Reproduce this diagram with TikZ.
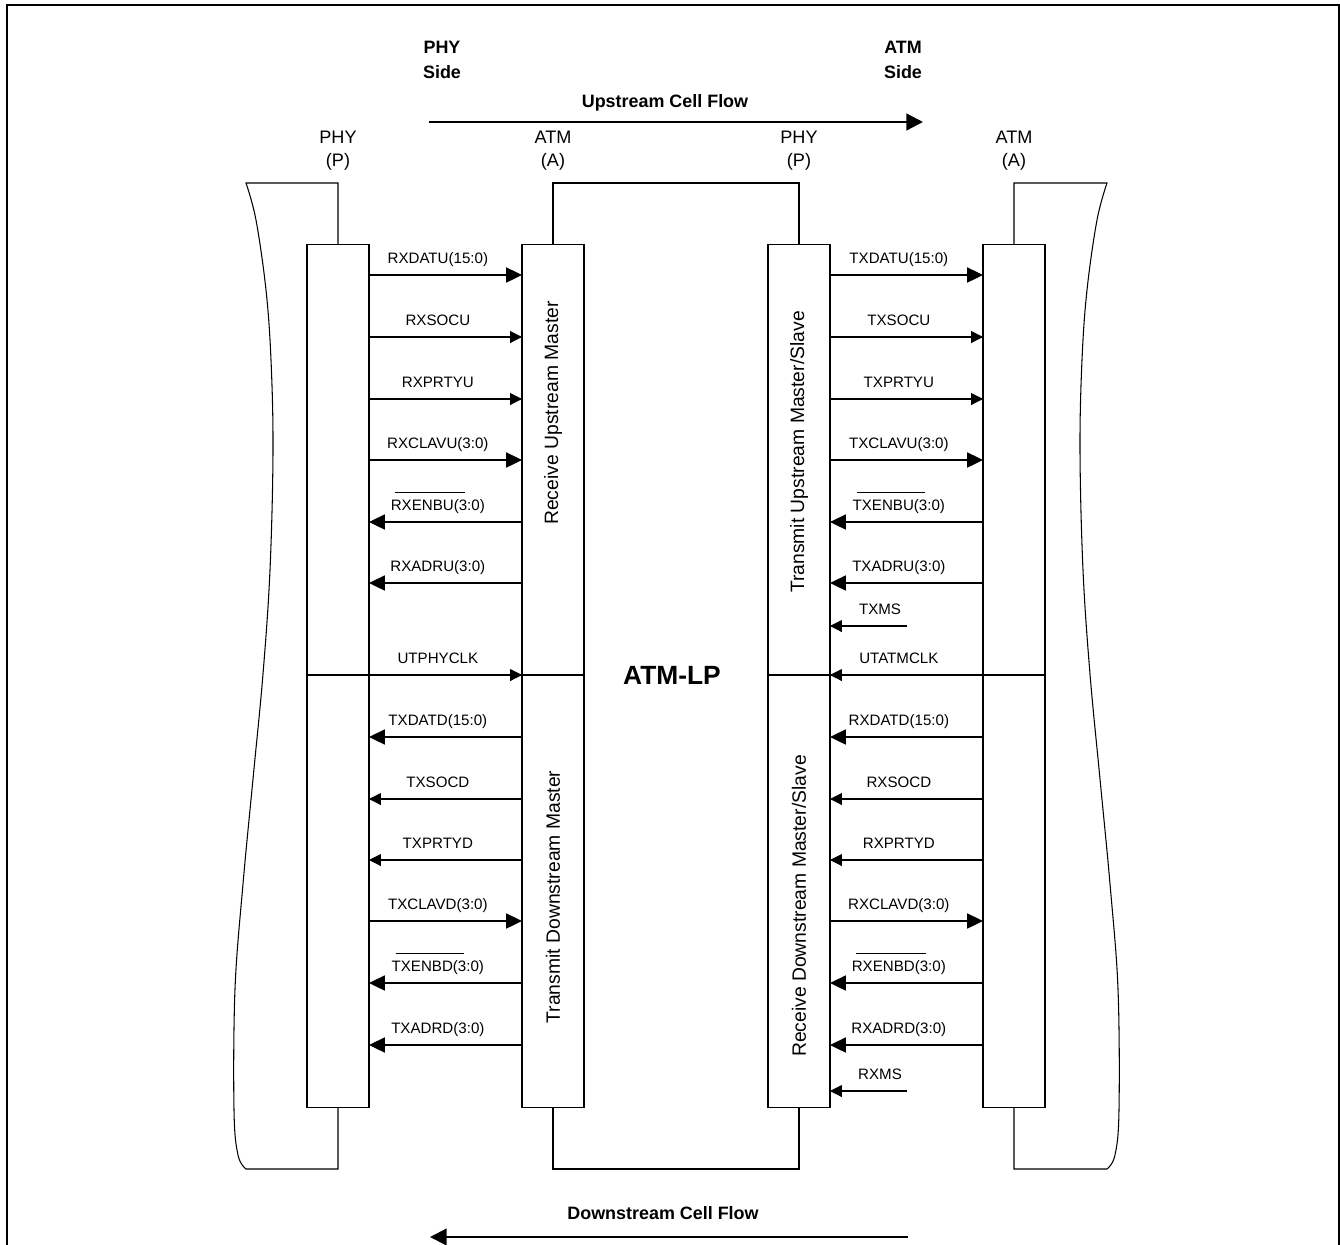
\documentclass[tikz,border=0pt]{standalone}
\usepackage{fontspec}
\setmainfont{Liberation Sans}
\usetikzlibrary{arrows.meta}
\newcommand\ovl[1]{\setbox0\hbox{#1}\rlap{\hspace{2.3pt}\rule[\dimexpr\ht0+4.2pt\relax]{\dimexpr\wd0+4pt\relax}{0.5pt}}\box0}
% name, from, to, y, style, label
\newcommand\sigrow[6]{\draw[#5] (#2.east |- 0,#4) -- node[lab] (#1) {#6} (#3.west |- 0,#4);}
\begin{document}
\begin{tikzpicture}[x=0.02cm,y=-0.02cm,
  frame/.style={line width=1.1pt},
  shp/.style={line width=0.6pt},
  blk/.style={draw, line width=0.6pt, inner sep=0pt, outer sep=0pt, minimum width=1.24cm, minimum height=17.28cm},
  thickR/.style={line width=1.1pt, -{Triangle[length=9pt,width=8.5pt]}},
  thickL/.style={line width=1.1pt, {Triangle[length=9pt,width=8.5pt]}-},
  thinR/.style={line width=0.6pt, -{Triangle[length=6.8pt,width=6.8pt]}},
  thinL/.style={line width=0.6pt, {Triangle[length=6.8pt,width=6.8pt]}-},
  flow/.style={line width=1.3pt, -{Triangle[length=9.5pt,width=9.5pt]}},
  lab/.style={font=\fontsize{8.6}{10}\selectfont, anchor=base, pos=0.45, yshift=6.6pt, inner sep=0pt},
  toplab/.style={font=\fontsize{10.3}{13}\selectfont, align=center, inner sep=0pt},
  boldlab/.style={font=\bfseries\fontsize{10.2}{14.2}\selectfont, align=center, inner sep=0pt},
  rot/.style={rotate=90, font=\fontsize{11}{13}\selectfont, inner sep=0pt}
]
\useasboundingbox (0,0) rectangle (1340,1245);
% outer frame
\draw[frame] (7,1245) -- (7,5) -- (1339,5) -- (1339,1245);

% blocks
\node[blk] (b1) at (338,676) {};
\node[blk] (b2) at (553,676) {};
\node[blk] (b3) at (799,676) {};
\node[blk] (b4) at (1014,676) {};

% device outlines
\draw[shp] (b1.north) -- (338,183) -- plot[smooth,tension=0.6] coordinates {(246,183) (256,220) (266,290) (271,360) (273,451) (270,570) (263,674) (253,779) (243,884) (235,989) (234,1110) (238,1155) (246,1169)} -- (338,1169) -- (b1.south);
\draw[shp] (b2.north) -- (553,183) -- (799,183) -- (b3.north);
\draw[shp] (b2.south) -- (553,1169) -- (799,1169) -- (b3.south);
\draw[shp] (b4.north) -- (1014,183) -- plot[smooth,tension=0.6] coordinates {(1107,183) (1097,220) (1087,290) (1082,360) (1080,451) (1083,570) (1090,674) (1100,779) (1110,884) (1118,989) (1119,1110) (1115,1155) (1107,1169)} -- (1014,1169) -- (b4.south);

% dividers
\draw[shp] (b1.west |- 0,675) -- (b2.east |- 0,675);
\draw[shp] (b3.west |- 0,675) -- (b4.east |- 0,675);

% top labels
\node[toplab] (l1) at (338,151) {PHY\\(P)};
\node[toplab] (l2) at (553,151) {ATM\\(A)};
\node[toplab] (l3) at (799,151) {PHY\\(P)};
\node[toplab] (l4) at (1014,151) {ATM\\(A)};
\node[boldlab] (phys) at (442,60) {PHY\\Side};
\node[boldlab] (atms) at (903,60) {ATM\\Side};

% flows
\coordinate (upL) at (429,122);
\coordinate (upR) at (923,122);
\draw[flow] (upL) -- (upR);
\node[font=\bfseries\fontsize{10.2}{12}\selectfont] (upt) at (665,103) {Upstream Cell Flow};
\coordinate (dnR) at (908,1237);
\coordinate (dnL) at (430,1237);
\draw[flow] (dnR) -- (dnL);
\node[font=\bfseries\fontsize{10.2}{12}\selectfont] (dnt) at (663,1213) {Downstream Cell Flow};

% center label
\node[font=\bfseries\fontsize{15}{17}\selectfont] (lp) at (672,675) {ATM-LP};

% rotated block labels
\node[rot] (t2u) at (553,413) {Receive Upstream Master};
\node[rot] (t2d) at (553,897) {Transmit Downstream Master};
\node[rot] (t3u) at (799,452) {Transmit Upstream Master/Slave};
\node[rot] (t3d) at (799,906) {Receive Downstream Master/Slave};

% left interface signals
\sigrow{s1}{b1}{b2}{275}{thickR}{RXDATU(15:0)}
\sigrow{s2}{b1}{b2}{337}{thinR}{RXSOCU}
\sigrow{s3}{b1}{b2}{399}{thinR}{RXPRTYU}
\sigrow{s4}{b1}{b2}{460}{thickR}{RXCLAVU(3:0)}
\sigrow{s5}{b1}{b2}{522}{thickL}{\ovl{RXENBU}(3:0)}
\sigrow{s6}{b1}{b2}{583}{thickL}{RXADRU(3:0)}
\sigrow{s7}{b1}{b2}{675}{thinR}{UTPHYCLK}
\sigrow{s8}{b1}{b2}{737}{thickL}{TXDATD(15:0)}
\sigrow{s9}{b1}{b2}{799}{thinL}{TXSOCD}
\sigrow{s10}{b1}{b2}{860}{thinL}{TXPRTYD}
\sigrow{s11}{b1}{b2}{921}{thickR}{TXCLAVD(3:0)}
\sigrow{s12}{b1}{b2}{983}{thickL}{\ovl{TXENBD}(3:0)}
\sigrow{s13}{b1}{b2}{1045}{thickL}{TXADRD(3:0)}

% right interface signals
\sigrow{r1}{b3}{b4}{275}{thickR}{TXDATU(15:0)}
\sigrow{r2}{b3}{b4}{337}{thinR}{TXSOCU}
\sigrow{r3}{b3}{b4}{399}{thinR}{TXPRTYU}
\sigrow{r4}{b3}{b4}{460}{thickR}{TXCLAVU(3:0)}
\sigrow{r5}{b3}{b4}{522}{thickL}{\ovl{TXENBU}(3:0)}
\sigrow{r6}{b3}{b4}{583}{thickL}{TXADRU(3:0)}
\sigrow{r7}{b3}{b4}{675}{thinL}{UTATMCLK}
\sigrow{r8}{b3}{b4}{737}{thickL}{RXDATD(15:0)}
\sigrow{r9}{b3}{b4}{799}{thinL}{RXSOCD}
\sigrow{r10}{b3}{b4}{860}{thinL}{RXPRTYD}
\sigrow{r11}{b3}{b4}{921}{thickR}{RXCLAVD(3:0)}
\sigrow{r12}{b3}{b4}{983}{thickL}{\ovl{RXENBD}(3:0)}
\sigrow{r13}{b3}{b4}{1045}{thickL}{RXADRD(3:0)}

% mode select inputs
\coordinate (txmsE) at (907,626);
\draw[thinL] (b3.east |- txmsE) -- node[lab, pos=0.65] (txms) {TXMS} (txmsE);
\coordinate (rxmsE) at (907,1091);
\draw[thinL] (b3.east |- rxmsE) -- node[lab, pos=0.65] (rxms) {RXMS} (rxmsE);
\end{tikzpicture}
\end{document}
